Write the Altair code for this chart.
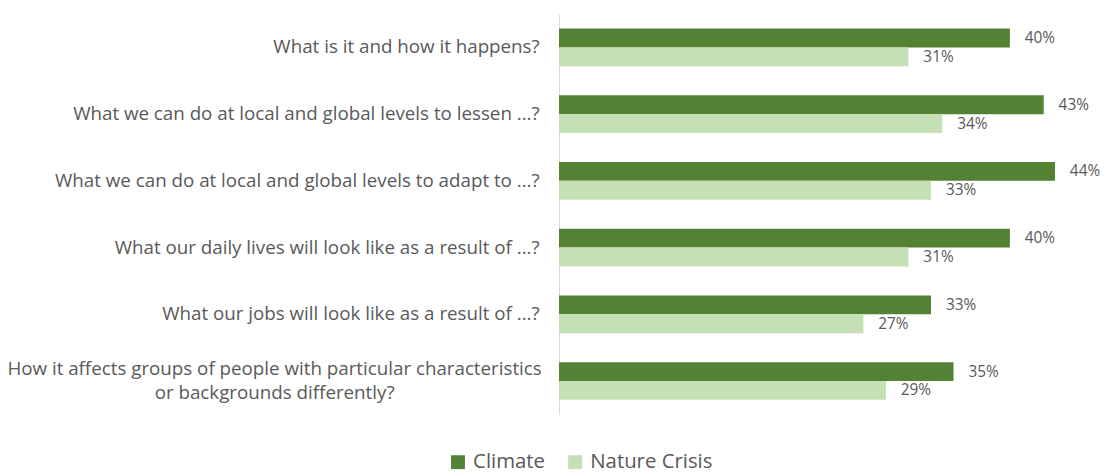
import altair as alt
import pandas as pd

categories = [
    "What is it and how it happens?",
    "What we can do at local and global levels to lessen ...?",
    "What we can do at local and global levels to adapt to ...?",
    "What our daily lives will look like as a result of ...?",
    "What our jobs will look like as a result of ...?",
    "How it affects groups of people with particular characteristics or backgrounds differently?",
]
series = ["Climate", "Nature Crisis"]
climate = [0.40, 0.43, 0.44, 0.40, 0.33, 0.35]
nature = [0.31, 0.34, 0.33, 0.31, 0.27, 0.29]
colors = ["#548235", "#C5E0B4"]

rows = []
for c, a, b in zip(categories, climate, nature):
    rows.append({"question": c, "series": series[0], "value": a})
    rows.append({"question": c, "series": series[1], "value": b})
df = pd.DataFrame(rows)

last = categories[-1]
is_last = "datum.value == '" + last + "'"
label_expr = (
    is_last + " ? "
    "['How it affects groups of people with particular characteristics', 'or backgrounds differently?'] : datum.value"
)

FONT = "Open Sans"
TXT = "#595959"

y_enc = alt.Y(
    "question:N",
    sort=categories,
    title=None,
    scale=alt.Scale(paddingInner=0.435, paddingOuter=0.2175),
    axis=alt.Axis(
        labelExpr=label_expr,
        ticks=False,
        domainColor="#D9D9D9",
        domainWidth=1,
        labelFont=FONT,
        labelFontSize=18.9,
        labelColor=TXT,
        labelLimit=0,
        labelLineHeight=24,
        labelBaseline="middle",
        labelAlign={"condition": {"test": is_last, "value": "center"}, "value": "right"},
        labelPadding={"condition": {"test": is_last, "value": 287}, "value": 20},
        labelOffset={"condition": {"test": is_last, "value": -12}, "value": 0},
    ),
)
yoff = alt.YOffset("series:N", sort=series, scale=alt.Scale(paddingInner=0, paddingOuter=0))
x_enc = alt.X("value:Q", scale=alt.Scale(domain=[0, 0.48], nice=False), axis=None)

bars = alt.Chart(df).mark_bar(size=19).encode(
    y=y_enc,
    yOffset=yoff,
    x=x_enc,
    color=alt.Color(
        "series:N",
        sort=series,
        scale=alt.Scale(domain=series, range=colors),
        legend=alt.Legend(
            title=None,
            orient="none",
            direction="horizontal",
            legendX=-112,
            legendY=441,
            symbolType="square",
            symbolSize=196,
            symbolStrokeWidth=0,
            symbolOpacity=1,
            labelFont=FONT,
            labelFontSize=20.5,
            labelColor=TXT,
            labelOffset=5,
            columnPadding=20,
            padding=0,
        ),
    ),
)

labels = alt.Chart(df).mark_text(
    align="left", baseline="middle", dx=15, font=FONT, fontSize=15.5, color=TXT
).encode(
    y=alt.Y("question:N", sort=categories),
    yOffset=alt.YOffset("series:N", sort=series),
    x=alt.X("value:Q"),
    text=alt.Text("value:Q", format=".0%"),
)

chart = (
    alt.layer(bars, labels)
    .properties(
        width=545,
        height=403.2,
        autosize=alt.AutoSizeParams(type="none"),
        padding={"left": 555, "top": 4.4, "right": 10, "bottom": 60},
    )
    .configure_view(stroke=None)
    .configure_axis(grid=False)
)

chart.save("out.html", embed_options={"renderer": "svg", "actions": False})
